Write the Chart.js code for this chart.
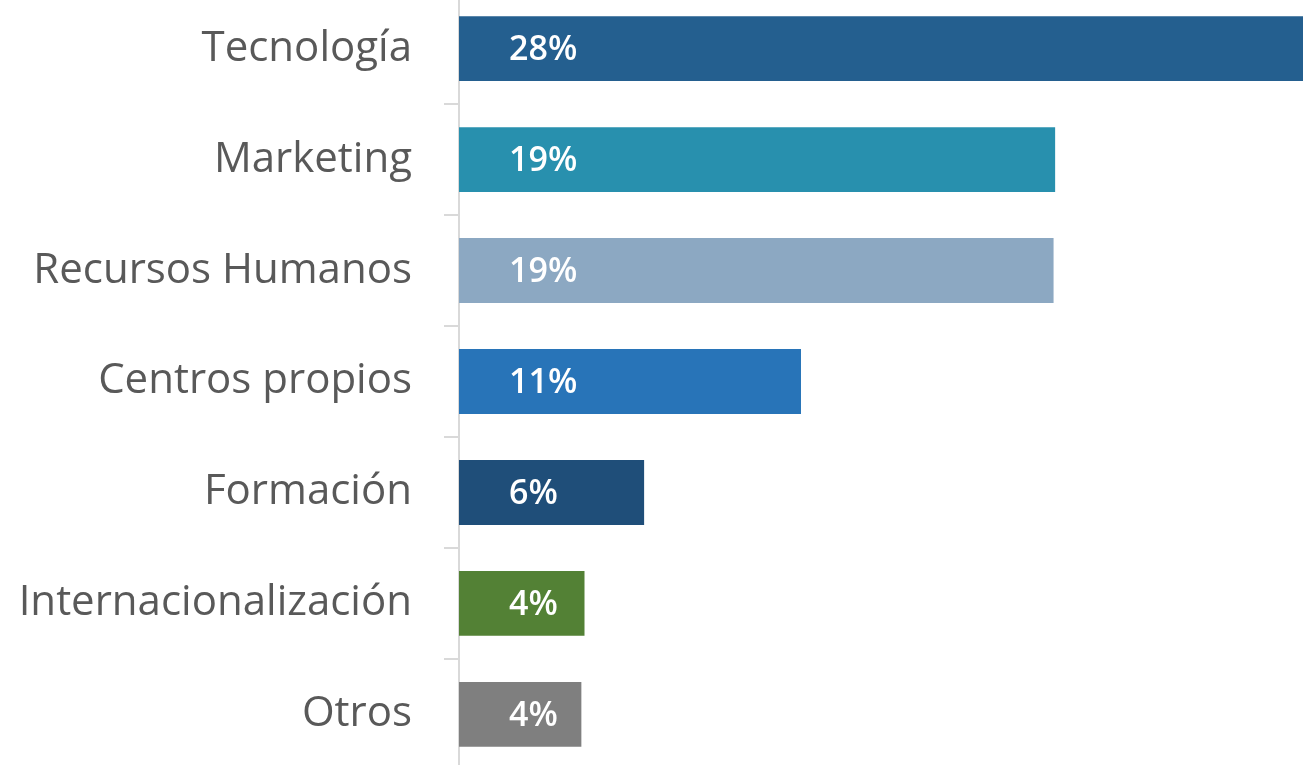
<!DOCTYPE html>
<html>
<head>
<meta charset="utf-8">
<script src="https://cdn.jsdelivr.net/npm/chart.js@4.4.0/dist/chart.umd.min.js"></script>
<style>
  html, body { margin: 0; padding: 0; background: #fff; overflow: hidden; }
  /* o eixo y reserva metade da linha + padding em cima e embaixo, por isso o canvas sobra */
  #wrap { position: absolute; left: 0; top: -64px; width: 1303px; height: 891px; }
</style>
</head>
<body>
<div id="wrap"><canvas id="grafico"></canvas></div>
<script>
const categorias = ['Tecnología', 'Marketing', 'Recursos Humanos', 'Centros propios', 'Formación', 'Internacionalización', 'Otros']
const valores = [28, 19.0, 18.95, 10.9, 5.9, 4.0, 3.9]
const etiquetas = ['28%', '19%', '19%', '11%', '6%', '4%', '4%']
const cores = ['#245f8f', '#2890ae', '#8ca8c2', '#2874b8', '#1f4e79', '#538135', '#7f7f7f']

// escreve o % dentro de cada barra
const pluginEtiquetas = {
    id: 'etiquetas',
    afterDatasetsDraw(chart) {
        const ctx = chart.ctx
        const meta = chart.getDatasetMeta(0)
        ctx.save()
        ctx.fillStyle = '#ffffff'
        ctx.font = '600 34px "Open Sans"'
        ctx.textAlign = 'left'
        ctx.textBaseline = 'middle'
        meta.data.forEach(function (barra, i) {
            ctx.fillText(etiquetas[i], barra.base + 50, barra.y + 2)
        })
        ctx.restore()
    }
}

new Chart(document.getElementById('grafico'), {
    type: 'bar',
    data: {
        labels: categorias,
        datasets: [{
            data: valores,
            backgroundColor: cores,
            borderWidth: 0,
            categoryPercentage: 1,
            barPercentage: 0.585
        }]
    },
    options: {
        indexAxis: 'y',
        responsive: true,
        maintainAspectRatio: false,
        animation: false,
        layout: { padding: 0 },
        plugins: {
            legend: { display: false },
            tooltip: { enabled: false }
        },
        scales: {
            x: {
                display: false,
                min: 0,
                max: 26.9
            },
            y: {
                afterFit(escala) { escala.width = 459 },
                border: { color: '#d9d9d9', width: 2 },
                grid: {
                    offset: true,
                    drawOnChartArea: false,
                    tickLength: 15,
                    color: '#d9d9d9',
                    lineWidth: 2
                },
                ticks: {
                    padding: 32,
                    color: '#595959',
                    font: { family: 'Open Sans', size: 42 }
                }
            }
        }
    },
    plugins: [pluginEtiquetas]
})
</script>
</body>
</html>
